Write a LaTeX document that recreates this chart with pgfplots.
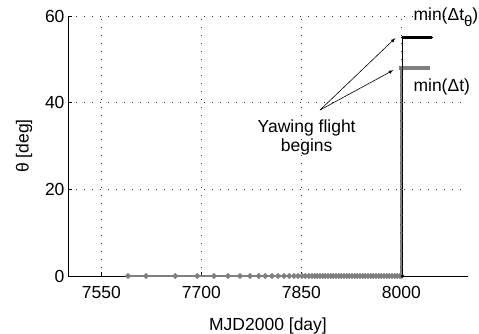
\documentclass[border=0pt]{standalone}
\usepackage{pgfplots}
\pgfplotsset{compat=1.18}
\usepackage{fontspec}
\setmainfont{Liberation Sans}
\definecolor{mgray}{RGB}{128,128,128}
\begin{document}
\begin{tikzpicture}
\begin{axis}[
  scale only axis, width=400pt, height=260pt,
  xmin=7500, xmax=8100, ymin=0, ymax=60,
  xtick={7550,7700,7850,8000}, ytick={0,20,40,60},
  /pgf/number format/assume math mode=true,
  /pgf/number format/1000 sep={},
  axis x line*=bottom, axis y line*=left,
  axis line style={black, line width=0.8pt, -},
  tick style={black, line width=0.6pt},
  tick align=inside, major tick length=4pt,
  grid=major, grid style={black!80, line width=0.7pt, dash pattern=on 1pt off 7pt},
  ticklabel style={font=\fontsize{17.5}{20}\selectfont},
  xticklabel style={anchor=base, yshift=-22pt},
  label style={font=\fontsize{17.5}{20}\selectfont},
  xlabel={MJD2000 [day]}, ylabel={θ [deg]},
  xlabel style={at={(axis description cs:0.5,0)}, anchor=base, yshift=-54pt},
  ylabel style={yshift=6pt},
  clip=false,
]
% gray series: min(Delta t)
\addplot[mgray, line width=2pt, mark=*, mark size=1.7pt, mark options={fill=mgray, draw=mgray}] coordinates {
(7590,0)(7617,0)(7661,0)(7694,0)(7719,0)(7740,0)(7758,0)(7773,0)(7786,0)(7796,0)
(7806,0)(7815,0)(7824,0)(7832,0)(7839,0)(7845,0)(7851,0)(7856,0)(7861,0)(7866,0)
(7870,0)(7874,0)(7878,0)(7882,0)(7886,0)(7890,0)(7894,0)(7898,0)(7902,0)(7906,0)
(7910,0)(7914,0)(7918,0)(7922,0)(7926,0)(7930,0)(7934,0)(7938,0)(7942,0)(7946,0)
(7950,0)(7954,0)(7958,0)(7962,0)(7966,0)(7970,0)(7974,0)(7978,0)(7982,0)(7986,0)
(7990,0)(7994,0)(7998,0)(8000,0)
};
\addplot[mgray, line width=2pt, mark=-, mark size=1.5pt, mark options={draw=gray!70!black, line width=0.6pt}] coordinates {
(8000,0)(8000,2)(8000,4)(8000,6)(8000,8)(8000,10)(8000,12)(8000,14)(8000,16)(8000,18)
(8000,20)(8000,22)(8000,24)(8000,26)(8000,28)(8000,30)(8000,32)(8000,34)(8000,36)(8000,38)
(8000,40)(8000,42)(8000,44)(8000,46)(8000,48)
};
\addplot[mgray, line width=3.5pt] coordinates {(7996,48)(8043,48)};
% black series: min(Delta t_theta)
\addplot[black, line width=1pt] coordinates {(8002,0)(8002,55)};
\addplot[black, line width=3.5pt, line cap=round] coordinates {(8002,55)(8045,55)};
\addplot[black, only marks, mark=*, mark size=1.5pt] coordinates {(8002,0)};
% annotations
\node[anchor=base west, font=\fontsize{17.5}{20}\selectfont, inner sep=0pt] at (axis cs:8018,58.9) {min(Δt\raisebox{-0.6ex}{\fontsize{15}{15}\selectfont θ})};
\node[anchor=base west, font=\fontsize{17.5}{20}\selectfont, inner sep=0pt] at (axis cs:8018,42.5) {min(Δt)};
\node[align=center, font=\fontsize{17.5}{19}\selectfont, inner sep=0pt] at (axis cs:7858,32) {Yawing flight\\begins};
\draw[-latex, line width=0.6pt] (axis cs:7878,38.3) -- (axis cs:7991,54.9);
\draw[-latex, line width=0.6pt] (axis cs:7878,38.3) -- (axis cs:7988,47.5);
\end{axis}
\pgfresetboundingbox
\path (current axis.south west) ++(-68pt,-57pt) rectangle ([xshift=11pt,yshift=16pt]current axis.north east);
\end{tikzpicture}
\end{document}
